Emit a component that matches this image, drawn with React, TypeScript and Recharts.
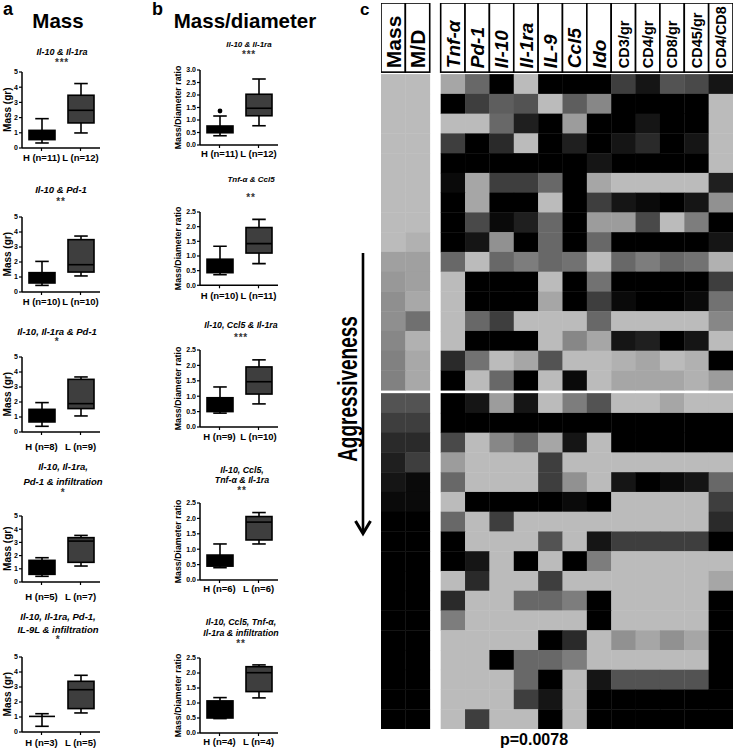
import React from 'react';
import { ComposedChart, Bar, XAxis, YAxis, ScatterChart, Scatter } from 'recharts';

const FONT = "'Liberation Sans', Arial, Helvetica, sans-serif";

// ---------- Panel a : Mass (gr)  five-number summaries [min, q1, median, q3, max] ----------
const a1Cats = ['H (n=11)', 'L (n=12)'];
const a1H = [0.33, 0.55, 0.85, 1.16, 1.93];
const a1L = [0.99, 1.65, 2.48, 3.47, 4.24];
const a2Cats = ['H (n=10)', 'L (n=10)'];
const a2H = [0.44, 0.6, 0.9, 1.29, 2.04];
const a2L = [1.07, 1.33, 1.82, 3.49, 3.73];
const a3Cats = ['H (n=8)', 'L (n=9)'];
const a3H = [0.38, 0.67, 1.0, 1.51, 1.96];
const a3L = [1.07, 1.56, 1.89, 3.51, 3.67];
const a4Cats = ['H (n=5)', 'L (n=7)'];
const a4H = [0.43, 0.58, 1.0, 1.64, 1.84];
const a4L = [1.21, 1.49, 3.1, 3.36, 3.53];
const a5Cats = ['H (n=3)', 'L (n=5)'];
const a5H = [0.38, 1.04, 1.04, 1.04, 1.22];
const a5L = [1.27, 1.56, 2.82, 3.38, 3.78];
const massTicks = [0, 1, 2, 3, 4, 5];

// ---------- Panel b : Mass/Diameter ratio ----------
const b1Cats = ['H (n=11)', 'L (n=12)'];
const b1H = [0.37, 0.49, 0.62, 0.76, 1.16];
const b1L = [0.77, 1.17, 1.47, 2.03, 2.64];
const b1HOutliers = [1.36];
const b2Cats = ['H (n=10)', 'L (n=11)'];
const b2H = [0.36, 0.43, 0.6, 0.89, 1.33];
const b2L = [0.74, 1.1, 1.42, 1.97, 2.25];
const b3Cats = ['H (n=9)', 'L (n=10)'];
const b3H = [0.45, 0.5, 0.7, 0.95, 1.3];
const b3L = [0.75, 1.07, 1.47, 1.95, 2.18];
const b4Cats = ['H (n=6)', 'L (n=6)'];
const b4H = [0.4, 0.45, 0.6, 0.81, 1.17];
const b4L = [1.17, 1.3, 1.88, 2.06, 2.19];
const b5Cats = ['H (n=4)', 'L (n=4)'];
const b5H = [0.48, 0.5, 0.7, 1.07, 1.18];
const b5L = [1.17, 1.38, 2.01, 2.21, 2.27];
const ratioTicks30 = [0, 0.5, 1, 1.5, 2, 2.5, 3];
const ratioTicks25 = [0, 0.5, 1, 1.5, 2, 2.5];

// ---------- Titles ----------
const aTitles = [
  ['Il-10 & Il-1ra'],
  ['Il-10 & Pd-1'],
  ['Il-10, Il-1ra & Pd-1'],
  ['Il-10, Il-1ra,', 'Pd-1 & infiltration'],
  ['Il-10, Il-1ra, Pd-1,', 'IL-9L & infiltration'],
];
const aStars = ['***', '**', '*', '*', '*'];
const bTitles = [
  ['Il-10 & Il-1ra'],
  ['Tnf-α & Ccl5'],
  ['Il-10, Ccl5 & Il-1ra'],
  ['Il-10, Ccl5,', 'Tnf-α & Il-1ra'],
  ['Il-10, Ccl5, Tnf-α,', 'Il-1ra & infiltration'],
];
const bStars = ['***', '**', '***', '**', '**'];

// ---------- Panel c : heatmap (0 = black ... 9 = light grey) ----------
const heatHeaders = ['Mass', 'M/D', 'Tnf-α', 'Pd-1', 'Il-10', 'Il-1ra', 'IL-9', 'Ccl5', 'Ido', 'CD3/gr', 'CD4/gr', 'CD8/gr', 'CD45/gr', 'CD4/CD8'];
const massMDLevels = [
  [9, 9], [9, 9], [9, 9], [9, 9], [9, 9], [9, 9], [9, 9], [9, 9],
  [9, 8.5], [7.7, 7.7], [7.3, 7.7], [6.9, 8.1], [6.9, 5.4], [6.5, 8.5], [6.2, 8.1], [6.2, 8.1],
  [4, 4], [3, 3], [2, 2], [1.5, 3], [1, 0.5], [0.5, 0.5],
  [0, 0], [0, 0], [0, 0], [0, 0], [0, 0], [0, 0], [0, 0], [0, 0], [0, 0], [0, 0], [0, 0],
];
const markerLevels = [
  [8, 5, 0, 9, 0, 0, 0, 3, 1, 4, 3.5, 1],
  [0, 3, 4.5, 4, 9, 4.5, 6.5, 0, 0, 0, 0, 9],
  [9, 9, 5, 1.5, 0, 7.5, 0, 0, 1, 0, 0, 9],
  [3, 0, 2, 9, 0, 1.5, 0, 1, 2, 0, 1, 9],
  [0, 0, 0, 0, 0, 0, 1, 0, 0, 0, 0, 9],
  [0.5, 8, 3, 3, 5, 0, 8, 9, 9, 9, 9, 1.5],
  [0, 8, 0, 0, 9, 0, 3, 1, 0.5, 0, 1, 7],
  [0, 3.5, 0.5, 1.5, 5, 0, 7.5, 7.5, 3.5, 9, 6, 0],
  [0, 1, 7, 0, 5, 0, 5, 0, 0, 0, 0, 1],
  [5, 9, 5, 6, 5, 5.5, 9, 5, 6, 5, 5.5, 8.5],
  [9, 0, 0, 0, 9, 0, 5.5, 0, 0, 0, 0, 3],
  [9, 0, 0, 0, 8, 0, 3, 0.5, 0, 0, 0.5, 5.5],
  [9, 5, 3, 9, 9, 9, 5, 9, 9, 9, 9, 6.5],
  [9, 0, 0, 0, 9, 6.5, 8, 1, 1.5, 0, 1, 9],
  [2, 5.5, 9, 8, 4, 9, 9, 8.5, 8, 9, 8.5, 0],
  [0, 9, 5, 0, 9, 0.5, 9, 8, 8, 8, 8.5, 7.5],
  [0, 1, 7.5, 1, 9, 6, 4, 9, 9, 8, 9, 9],
  [0, 0, 0, 0, 0, 0, 0, 0, 0, 0, 0, 0],
  [3.5, 9, 6.5, 5, 8, 1, 9, 0, 0, 0, 0, 0],
  [7.5, 9, 9, 9, 3, 9, 9, 9, 9, 9, 9, 9],
  [5, 9, 9, 9, 3, 7, 9, 1, 0, 0.5, 1, 5],
  [9, 0, 0, 0, 0, 0.5, 0, 9, 9, 9, 9, 3],
  [5, 9, 3, 9, 9, 9, 9, 9, 9, 9, 9, 2],
  [0, 9, 9, 9, 4, 9, 1, 3, 3, 3, 3, 0],
  [0, 1, 9, 0, 9, 0, 6, 9, 9, 9, 9, 9],
  [9, 2, 9, 9, 3, 9, 9, 9, 9, 9, 9, 8],
  [2, 9, 9, 5, 5, 6, 0, 9, 9, 9, 9, 0],
  [6, 9, 9, 9, 9, 9, 0, 9, 9, 9, 9, 0],
  [9, 9, 9, 9, 0, 2, 9, 7, 8, 7, 8, 0],
  [9, 9, 0, 5, 5, 6, 9, 9, 9, 9, 9, 0],
  [9, 9, 9, 5, 0, 9, 1, 4, 4, 4, 4, 0],
  [9, 9, 9, 3, 1, 9, 0, 0, 0, 0, 0, 0],
  [9, 3, 9, 9, 0, 9, 0, 0, 0, 0, 0, 0],
];
const groupSplit = 16;
const pValueText = 'p=0.0078';

// ---------- heatmap geometry (axis domains) ----------
const HM_LEFT = 381, HM_TOP = 3, HM_W = 352, HM_H = 726;
const X_MIN = 0, X_MAX = 14.45;
const Y_MIN = -3.6, Y_MAX = 33.15;
const GENE_OFFSET = 2.45;
const GROUP_GAP = 0.15;
const HEADER_TOP = -3.6, HEADER_BOTTOM = -0.1;
const CW = HM_W / (X_MAX - X_MIN);
const CH = HM_H / (Y_MAX - Y_MIN);

const colX = (c: number) => (c < 2 ? c + 0.5 : GENE_OFFSET + (c - 2) + 0.5);
const rowY = (r: number) => r + 0.5 + (r >= groupSplit ? GROUP_GAP : 0);

const cellData: { x: number; y: number; v: number }[] = [];
massMDLevels.forEach((row, r) => row.forEach((v, c) => cellData.push({ x: colX(c), y: rowY(r), v })));
markerLevels.forEach((row, r) => row.forEach((v, c) => cellData.push({ x: colX(c + 2), y: rowY(r), v })));
const headerData = heatHeaders.map((label, c) => ({ x: colX(c), y: (HEADER_TOP + HEADER_BOTTOM) / 2, label, c }));

const CellShape = (props: any) => {
  const { cx, cy, payload } = props;
  const g = Math.round((payload.v / 9) * 187);
  return <rect x={cx - CW / 2} y={cy - CH / 2} width={CW + 0.4} height={CH + 0.4} fill={`rgb(${g},${g},${g})`} />;
};

const HeaderShape = (props: any) => {
  const { cx, cy, payload } = props;
  const hh = (HEADER_BOTTOM - HEADER_TOP) * CH;
  const x0 = cx - CW / 2;
  const y0 = cy - hh / 2;
  const c = payload.c;
  const italic = c >= 2 && c <= 8;
  const fs = c < 2 ? 21 : italic ? 19 : 14.5;
  const bx = cx + 0.36 * fs;
  const by = y0 + hh - 4;
  return (
    <g>
      <rect x={x0} y={y0} width={CW} height={hh} fill="#fff" stroke="#000" strokeWidth={1.6} />
      <text x={bx} y={by} transform={`rotate(-90 ${bx} ${by})`} fontSize={fs} fontWeight="bold"
        fontStyle={italic ? 'italic' : 'normal'} fontFamily={FONT} fill="#000">{payload.label}</text>
    </g>
  );
};

// ---------- box plot ----------
const mk = (name: string, s: number[], outs: number[], fill: string) => ({
  name,
  range: [Math.min(s[0], ...outs), Math.max(s[4], ...outs)],
  min: s[0], q1: s[1], med: s[2], q3: s[3], max: s[4], outs, fill,
});

const BoxShape = (props: any) => {
  const { x, y, width, height, payload } = props;
  if (!payload || !payload.range) return null;
  const [lo, hi] = payload.range;
  const top = Math.min(y, y + height);
  const h = Math.abs(height);
  const py = (v: number) => top + ((hi - v) / (hi - lo)) * h;
  const cx = x + width / 2;
  const cap = width * 0.26;
  const sw = 1.6;
  return (
    <g>
      <line x1={cx} x2={cx} y1={py(payload.max)} y2={py(payload.q3)} stroke="#000" strokeWidth={sw} />
      <line x1={cx} x2={cx} y1={py(payload.q1)} y2={py(payload.min)} stroke="#000" strokeWidth={sw} />
      <line x1={cx - cap} x2={cx + cap} y1={py(payload.max)} y2={py(payload.max)} stroke="#000" strokeWidth={sw} />
      <line x1={cx - cap} x2={cx + cap} y1={py(payload.min)} y2={py(payload.min)} stroke="#000" strokeWidth={sw} />
      <rect x={x} y={py(payload.q3)} width={width} height={Math.max(0, py(payload.q1) - py(payload.q3))}
        fill={payload.fill} stroke="#000" strokeWidth={sw} />
      <line x1={x} x2={x + width} y1={py(payload.med)} y2={py(payload.med)} stroke="#000" strokeWidth={sw} />
      {payload.outs.map((o: number, i: number) => (
        <circle key={i} cx={cx} cy={py(o)} r={2.4} fill="#000" />
      ))}
    </g>
  );
};

const XTick = (props: any) => {
  const { x, y, payload, off } = props;
  return (
    <text x={x} y={y - 3 + off + 3.4} textAnchor="middle" fontSize={9.5} fontWeight="bold" fontFamily={FONT} fill="#000">
      {payload.value}
    </text>
  );
};

type BoxCfg = {
  left: number; top: number; bottom: number; cats: string[]; h: number[]; l: number[];
  hOut?: number[]; ticks: number[]; fmt: (v: number) => string; labOff: number;
};

const BoxPlot = ({ cfg }: { cfg: BoxCfg }) => {
  const MT = 5, XH = 22, YW = 22, W = 104;
  const plotH = cfg.bottom - cfg.top;
  const data = [mk(cfg.cats[0], cfg.h, cfg.hOut || [], '#000000'), mk(cfg.cats[1], cfg.l, [], '#3e3e3e')];
  const ymax = cfg.ticks[cfg.ticks.length - 1];
  return (
    <div style={{ position: 'absolute', left: cfg.left, top: cfg.top - MT }}>
      <ComposedChart width={W} height={plotH + MT + XH} data={data} margin={{ top: MT, right: 4, bottom: 0, left: 0 }}>
        <XAxis dataKey="name" type="category" height={XH} interval={0} tickSize={3} tickMargin={0}
          axisLine={{ stroke: '#000', strokeWidth: 1.5 }} tickLine={{ stroke: '#000', strokeWidth: 1.2 }}
          tick={<XTick off={cfg.labOff} />} />
        <YAxis type="number" domain={[0, ymax]} ticks={cfg.ticks} allowDataOverflow width={YW} tickSize={3} tickMargin={1}
          interval={0} tickFormatter={cfg.fmt}
          axisLine={{ stroke: '#000', strokeWidth: 1.5 }} tickLine={{ stroke: '#000', strokeWidth: 1.2 }}
          tick={{ fontSize: 7, fontWeight: 'bold', fill: '#000', fontFamily: FONT }} />
        <Bar dataKey="range" barSize={26} isAnimationActive={false} shape={BoxShape} />
      </ComposedChart>
    </div>
  );
};

const fmtInt = (v: number) => String(v);
const fmt1 = (v: number) => v.toFixed(1);

const aCfgs: BoxCfg[] = [
  { left: 0, top: 71.7, bottom: 147.7, cats: a1Cats, h: a1H, l: a1L, ticks: massTicks, fmt: fmtInt, labOff: 9.5 },
  { left: 0, top: 216.7, bottom: 291.7, cats: a2Cats, h: a2H, l: a2L, ticks: massTicks, fmt: fmtInt, labOff: 10 },
  { left: 0, top: 356.7, bottom: 431.7, cats: a3Cats, h: a3H, l: a3L, ticks: massTicks, fmt: fmtInt, labOff: 15 },
  { left: 0, top: 515.7, bottom: 581.7, cats: a4Cats, h: a4H, l: a4L, ticks: massTicks, fmt: fmtInt, labOff: 15 },
  { left: 0, top: 656.7, bottom: 731.7, cats: a5Cats, h: a5H, l: a5L, ticks: massTicks, fmt: fmtInt, labOff: 10.5 },
];
const bCfgs: BoxCfg[] = [
  { left: 178, top: 70, bottom: 145, cats: b1Cats, h: b1H, l: b1L, hOut: b1HOutliers, ticks: ratioTicks30, fmt: fmt1, labOff: 8.5 },
  { left: 178, top: 211.7, bottom: 285, cats: b2Cats, h: b2H, l: b2L, ticks: ratioTicks25, fmt: fmt1, labOff: 10 },
  { left: 178, top: 350, bottom: 427, cats: b3Cats, h: b3H, l: b3L, ticks: ratioTicks25, fmt: fmt1, labOff: 10 },
  { left: 178, top: 503, bottom: 580, cats: b4Cats, h: b4H, l: b4L, ticks: ratioTicks25, fmt: fmt1, labOff: 8.5 },
  { left: 178, top: 658, bottom: 733, cats: b5Cats, h: b5H, l: b5L, ticks: ratioTicks25, fmt: fmt1, labOff: 9 },
];

const aTitlePos = [
  { x: 62, ys: [55], fs: 9, sy: 66 },
  { x: 61, ys: [193], fs: 9.5, sy: 205 },
  { x: 57, ys: [335], fs: 9.5, sy: 345 },
  { x: 63, ys: [470, 485], fs: 9.5, sy: 496 },
  { x: 58, ys: [620, 633], fs: 9.5, sy: 643 },
];
const bTitlePos = [
  { x: 249, ys: [47], fs: 8, sy: 58 },
  { x: 251, ys: [182], fs: 8, sy: 201 },
  { x: 241, ys: [328], fs: 8.8, sy: 341 },
  { x: 242, ys: [473, 483], fs: 8.8, sy: 494 },
  { x: 241, ys: [625, 636], fs: 8.8, sy: 647 },
];

const Titles = ({ titles, stars, pos }: { titles: string[][]; stars: string[]; pos: any[] }) => (
  <g>
    {titles.map((lines, i) => (
      <g key={i}>
        {lines.map((t, j) => (
          <text key={j} x={pos[i].x} y={pos[i].ys[j]} textAnchor="middle" fontSize={pos[i].fs} fontWeight="bold"
            fontStyle="italic" fill="#000">{t}</text>
        ))}
        <text x={pos[i].x} y={pos[i].sy} textAnchor="middle" fontSize={10} fontWeight="bold" fill="#333" letterSpacing={0.8}>
          {stars[i]}
        </text>
      </g>
    ))}
  </g>
);

const YTitle = ({ x, cy, text, fs }: { x: number; cy: number; text: string; fs: number }) => (
  <text x={x} y={cy} transform={`rotate(-90 ${x} ${cy})`} textAnchor="middle" fontSize={fs} fontWeight="bold" fill="#000">
    {text}
  </text>
);

export default function App() {
  return (
    <div style={{ position: 'absolute', left: 0, top: 0, width: 738, height: 749, background: '#fff', overflow: 'hidden', fontFamily: FONT }}>
      {aCfgs.map((c, i) => <BoxPlot key={'a' + i} cfg={c} />)}
      {bCfgs.map((c, i) => <BoxPlot key={'b' + i} cfg={c} />)}

      <div style={{ position: 'absolute', left: HM_LEFT, top: HM_TOP }}>
        <ScatterChart width={HM_W} height={HM_H} margin={{ top: 0, right: 0, bottom: 0, left: 0 }}>
          <XAxis type="number" dataKey="x" domain={[X_MIN, X_MAX]} allowDataOverflow hide />
          <YAxis type="number" dataKey="y" domain={[Y_MIN, Y_MAX]} allowDataOverflow reversed hide />
          <Scatter data={cellData} shape={CellShape} isAnimationActive={false} />
          <Scatter data={headerData} shape={HeaderShape} isAnimationActive={false} />
        </ScatterChart>
      </div>

      <svg width={738} height={749} style={{ position: 'absolute', left: 0, top: 0, pointerEvents: 'none' }} fontFamily={FONT}>
        <text x={3} y={15} fontSize={18} fontWeight="bold" fill="#000">a</text>
        <text x={152} y={15} fontSize={18} fontWeight="bold" fill="#000">b</text>
        <text x={360} y={15} fontSize={17} fontWeight="bold" fill="#000">c</text>
        <text x={58} y={28} textAnchor="middle" fontSize={20.5} fontWeight="bold" fill="#000">Mass</text>
        <text x={245} y={28} textAnchor="middle" fontSize={20.5} fontWeight="bold" fill="#000">Mass/diameter</text>

        <Titles titles={aTitles} stars={aStars} pos={aTitlePos} />
        <Titles titles={bTitles} stars={bStars} pos={bTitlePos} />

        {aCfgs.map((c, i) => <YTitle key={'ya' + i} x={11.5} cy={(c.top + c.bottom) / 2} text="Mass (gr)" fs={10} />)}
        {bCfgs.map((c, i) => <YTitle key={'yb' + i} x={181} cy={(c.top + c.bottom) / 2} text="Mass/Diameter ratio" fs={8.8} />)}

        <g transform="translate(347 389) rotate(-90) scale(1 1.45)">
          <text x={0} y={6.8} textAnchor="middle" fontSize={19} fontWeight="bold" fill="#000">Aggressiveness</text>
        </g>
        <line x1={363} y1={253} x2={363} y2={532} stroke="#000" strokeWidth={2.6} />
        <polyline points="355.5,521 363,533.5 370.5,521" fill="none" stroke="#000" strokeWidth={3} />

        <text x={534} y={745} textAnchor="middle" fontSize={16} fontWeight="bold" fill="#000">{pValueText}</text>
      </svg>
    </div>
  );
}
